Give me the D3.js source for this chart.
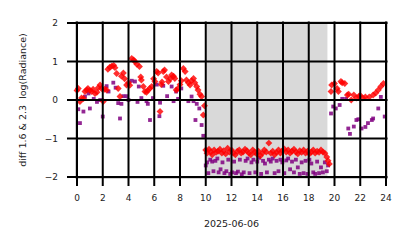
<!DOCTYPE html>
<html>
<head>
<meta charset="utf-8">
<script src="https://cdn.jsdelivr.net/npm/d3@7"></script>
<style>
  body { margin: 0; background: #fff; }
  svg text { font-family: "DejaVu Sans", sans-serif; fill: #222; }
</style>
</head>
<body>
<div id="chart"></div>
<script>
const xTicks = [0, 2, 4, 6, 8, 10, 12, 14, 16, 18, 20, 22, 24];
const yTicks = [-2, -1, 0, 1, 2];
const xLabel = "2025-06-06";
const yLabel = "diff 1.6 & 2.3  log(Radiance)";
const shadeSpan = [10.05, 19.45];

// red diamonds: hour of day, diff value
const redHours = [
  0.0, 0.1, 0.23, 0.35, 0.5, 0.62, 0.75, 0.85, 1.0, 1.14, 1.25, 1.4, 1.55, 1.65, 1.79, 1.9,
  2.04, 2.15, 2.3, 2.4, 2.55, 2.7, 2.85, 2.95, 3.08, 3.2, 3.34, 3.45, 3.6, 3.7, 3.85, 4.0,
  4.1, 4.25, 4.4, 4.5, 4.65, 4.85, 4.95, 5.0, 5.15, 5.28, 5.4, 5.5, 5.65, 5.8, 5.95, 6.05,
  6.19, 6.3, 6.45, 6.55, 6.6, 6.7, 6.8, 6.95, 7.1, 7.25, 7.35, 7.5, 7.6, 7.7, 7.85, 8.0,
  8.1, 8.26, 8.4, 8.5, 8.65, 8.78, 8.9, 9.05, 9.15, 9.3, 9.4, 9.55, 9.68, 9.81, 9.9,
  10.0, 10.1, 10.25, 10.4, 10.5, 10.65, 10.8, 10.95, 11.1, 11.25, 11.4, 11.55, 11.7, 11.85,
  12.0, 12.15, 12.3, 12.45, 12.6, 12.75, 12.9, 13.05, 13.2, 13.35, 13.5, 13.65, 13.8, 13.95,
  14.1, 14.25, 14.4, 14.55, 14.7, 14.9, 15.05, 15.2, 15.35, 15.5, 15.65, 15.8, 15.95, 16.1,
  16.25, 16.4, 16.55, 16.7, 16.85, 17.0, 17.15, 17.3, 17.45, 17.6, 17.75, 17.9, 18.05, 18.2,
  18.35, 18.5, 18.65, 18.8, 18.95, 19.1, 19.25, 19.4, 19.5, 19.6,
  19.73, 19.78, 20.0, 20.2, 20.3, 20.5, 20.6, 20.8, 21.0, 21.1, 21.3, 21.5, 21.7, 21.9,
  22.0, 22.2, 22.4, 22.7, 23.0, 23.2, 23.4, 23.6, 23.8
];
const redValues = [
  0.25, 0.30, -0.04, 0.05, 0.04, 0.22, 0.26, 0.30, 0.25, 0.22, 0.28, 0.17, 0.20, 0.32, 0.39, 0.30,
  -0.04, 0.28, 0.26, 0.80, 0.85, 0.88, 0.90, 0.84, 0.69, 0.30, 0.09, 0.62, 0.70, 0.55, 0.39, 0.45,
  0.38, 1.08, 1.04, 1.00, 0.93, 0.87, 0.60, 0.52, 0.35, 0.22, 0.20, 0.25, 0.30, 0.35, 0.55, 0.48,
  0.74, 0.70, -0.30, 0.40, 0.47, 0.74, 0.78, 0.60, 0.48, 0.55, 0.65, 0.62, 0.56, 0.26, 0.30, 0.40,
  0.50, 0.82, 0.74, 0.52, 0.45, 0.39, 0.50, 0.56, 0.45, 0.35, 0.26, 0.15, 0.09, -0.39, -0.15,
  -1.30, -1.38, -1.28, -1.35, -1.42, -1.30, -1.36, -1.33, -1.28, -1.38, -1.32, -1.40, -1.25, -1.35,
  -1.30, -1.38, -1.42, -1.33, -1.30, -1.38, -1.35, -1.28, -1.32, -1.38, -1.42, -1.30, -1.35, -1.40,
  -1.33, -1.45, -1.38, -1.30, -1.35, -1.12, -1.38, -1.33, -1.42, -1.36, -1.30, -1.38, -1.32, -1.27,
  -1.35, -1.30, -1.38, -1.33, -1.28, -1.35, -1.40, -1.32, -1.36, -1.30, -1.38, -1.33, -1.40, -1.35,
  -1.30, -1.38, -1.33, -1.36, -1.30, -1.35, -1.38, -1.48, -1.58, -1.66,
  0.22, 0.39, 0.43, 0.30, 0.22, 0.48, 0.45, 0.43, 0.13, 0.15, 0.00, 0.13, 0.05, 0.10,
  0.12, 0.05, 0.08, 0.08, 0.13, 0.18, 0.26, 0.35, 0.43
];

// purple squares: hour of day, diff value
const purpleHours = [
  0.1, 0.23, 0.5, 0.62, 0.9, 1.0, 1.3, 1.55, 1.8, 2.0, 2.3, 2.45, 2.82, 3.0, 3.2, 3.34,
  3.45, 3.6, 3.85, 4.0, 4.25, 4.5, 4.7, 4.8, 5.0, 5.4, 5.5, 5.67, 5.9, 6.2, 6.4, 6.45,
  6.7, 7.0, 7.35, 7.5, 7.7, 7.85, 8.1, 8.65, 8.9, 9.05, 9.2, 9.3, 9.5, 9.68, 9.81,
  10.0, 10.1, 10.2, 10.35, 10.5, 10.6, 10.75, 10.9, 11.0, 11.15, 11.3, 11.45, 11.6, 11.75,
  11.9, 12.05, 12.2, 12.35, 12.5, 12.65, 12.8, 12.95, 13.1, 13.25, 13.4, 13.55, 13.7, 13.85,
  14.0, 14.15, 14.3, 14.45, 14.6, 14.75, 14.9, 15.05, 15.2, 15.35, 15.5, 15.65, 15.8, 15.95,
  16.1, 16.25, 16.4, 16.55, 16.7, 16.85, 17.0, 17.15, 17.3, 17.45, 17.6, 17.75, 17.9, 18.05,
  18.2, 18.35, 18.5, 18.65, 18.8, 18.95, 19.1, 19.25, 19.4, 19.5,
  19.73, 19.9, 20.1, 20.4, 20.6, 20.9, 21.07, 21.2, 21.5, 21.7, 21.85, 22.1, 22.4, 22.6,
  22.9, 23.0, 23.4, 23.6, 23.9
];
const purpleValues = [
  -0.24, -0.60, -0.30, 0.09, 0.17, -0.22, 0.03, -0.05, 0.00, -0.43, 0.36, 0.22, 0.45, 0.32, -0.08, -0.48,
  -0.10, 0.10, 0.10, 0.00, 0.50, 0.48, -0.05, 0.35, 0.05, -0.03, -0.10, -0.52, 0.05, 0.40, -0.42, -0.07,
  0.37, 0.10, 0.35, -0.03, 0.22, 0.03, 0.30, -0.03, 0.09, -0.03, -0.52, -0.10, -0.22, -0.65, -0.93,
  -1.70, -1.62, -1.90, -1.55, -1.60, -1.85, -1.58, -1.52, -1.88, -1.80, -1.62, -1.90, -1.85, -1.55,
  -1.92, -1.88, -1.60, -1.90, -1.86, -1.55, -1.93, -1.88, -1.58, -1.52, -1.90, -1.62, -1.55, -1.88,
  -1.60, -1.50, -1.92, -1.58, -1.65, -1.88, -1.55, -1.60, -1.52, -1.90, -1.58, -1.85, -1.55, -1.62,
  -1.90, -1.57, -1.52, -1.80, -1.60, -1.88, -1.55, -1.75, -1.92, -1.62, -1.90, -1.58, -1.92, -1.55,
  -1.65, -1.88, -1.92, -1.60, -1.90, -1.75, -1.88, -1.62, -1.85, -1.70,
  -0.35, -0.17, -0.22, -0.13, 0.03, 0.03, -0.74, -0.88, -0.69, -0.52, -0.50, -0.74, -0.70, -0.60,
  -0.52, -0.48, -0.22, 0.08, -0.43
];

(function() {
  const width = 414;
  const height = 248;
  const plot = { left: 77, right: 386, top: 23, bottom: 177 };

  const svg = d3.select("#chart").append("svg")
    .attr("width", width)
    .attr("height", height);

  const x = d3.scaleLinear().domain([0, 24]).range([plot.left, plot.right]);
  const y = d3.scaleLinear().domain([-2, 2]).range([plot.bottom, plot.top]);

  // frame (light spines)
  svg.append("rect")
    .attr("x", plot.left - 1.5)
    .attr("y", plot.top - 1.5)
    .attr("width", plot.right - plot.left + 3)
    .attr("height", plot.bottom - plot.top + 3)
    .attr("fill", "#fff")
    .attr("stroke", "#d0d0d0")
    .attr("stroke-width", 1);

  // shaded span
  svg.append("rect")
    .attr("x", x(shadeSpan[0]))
    .attr("y", plot.top - 1.5)
    .attr("width", x(shadeSpan[1]) - x(shadeSpan[0]))
    .attr("height", plot.bottom - plot.top + 3)
    .attr("fill", "#d9d9d9");

  const redData = redHours.map((h, i) => ({ h, v: redValues[i] }));
  const purpleData = purpleHours.map((h, i) => ({ h, v: purpleValues[i] }));

  svg.append("g")
    .selectAll("rect")
    .data(purpleData)
    .join("rect")
    .attr("x", d => x(d.h) - 1.9)
    .attr("y", d => y(d.v) - 1.9)
    .attr("width", 3.8)
    .attr("height", 3.8)
    .attr("fill", "#800080")
    .attr("fill-opacity", 0.85);

  const diamond = d3.symbol().type(d3.symbolSquare).size(24);
  svg.append("g")
    .selectAll("path")
    .data(redData)
    .join("path")
    .attr("d", diamond)
    .attr("transform", d => `translate(${x(d.h)},${y(d.v)}) rotate(45)`)
    .attr("fill", "#ff0000")
    .attr("fill-opacity", 0.82);

  // grid + ticks on top
  const grid = svg.append("g").attr("stroke", "#000").attr("stroke-width", 2);
  grid.selectAll(".vx")
    .data(xTicks)
    .join("line")
    .attr("x1", d => x(d)).attr("x2", d => x(d))
    .attr("y1", plot.top - 1.5).attr("y2", plot.bottom + 9);
  grid.selectAll(".hy")
    .data(yTicks)
    .join("line")
    .attr("y1", d => y(d)).attr("y2", d => y(d))
    .attr("x1", plot.left - 10).attr("x2", plot.right + 1.5);

  const fmt = d3.format("d");
  svg.append("g")
    .selectAll("text")
    .data(xTicks)
    .join("text")
    .attr("x", d => x(d))
    .attr("y", plot.bottom + 24)
    .attr("text-anchor", "middle")
    .style("font-size", "9px")
    .text(d => fmt(d));

  svg.append("g")
    .selectAll("text")
    .data(yTicks)
    .join("text")
    .attr("x", plot.left - 19)
    .attr("y", d => y(d))
    .attr("dy", "0.35em")
    .attr("text-anchor", "end")
    .style("font-size", "9px")
    .text(d => fmt(d));

  svg.append("text")
    .attr("x", (plot.left + plot.right) / 2)
    .attr("y", plot.bottom + 50)
    .attr("text-anchor", "middle")
    .style("font-size", "9.5px")
    .text(xLabel);

  svg.append("text")
    .attr("transform", `translate(26, ${(plot.top + plot.bottom) / 2}) rotate(-90)`)
    .attr("text-anchor", "middle")
    .attr("xml:space", "preserve")
    .style("white-space", "pre")
    .style("font-size", "9.5px")
    .text(yLabel);
})();
</script>
</body>
</html>
